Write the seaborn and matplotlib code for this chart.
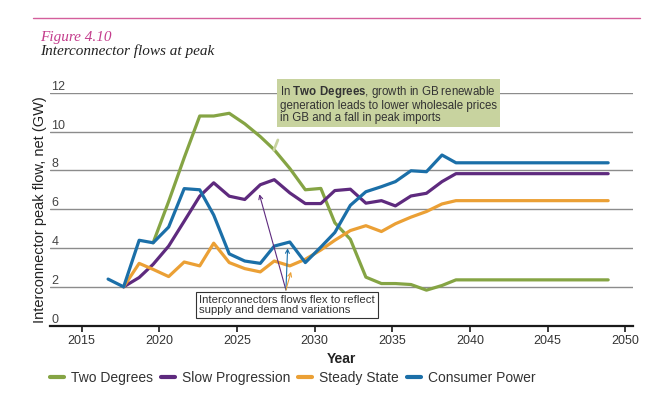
import numpy as np
import pandas as pd
import matplotlib
matplotlib.use("Agg")
import matplotlib.pyplot as plt
import seaborn as sns

# Data (GW); x positions are where each point sits on the year axis
years = [2016.7, 2017.7, 2018.7, 2019.6, 2020.6, 2021.6, 2022.6, 2023.5, 2024.5,
         2025.5, 2026.5, 2027.4, 2028.4, 2029.4, 2030.4, 2031.3, 2032.3, 2033.3,
         2034.3, 2035.2, 2036.2, 2037.2, 2038.2, 2039.1, 2048.9]
nan = np.nan
two_degrees = [nan, nan, nan, 4.27, 6.4, 8.65, 10.8, 10.8, 10.94, 10.4, 9.74, 9.06,
               8.1, 7.0, 7.07, 5.3, 4.45, 2.5, 2.17, 2.17, 2.12, 1.83, 2.07, 2.36, 2.36]
slow_progression = [nan, 2.0, 2.48, 3.16, 4.1, 5.38, 6.67, 7.36, 6.67, 6.5, 7.26, 7.52,
                    6.84, 6.29, 6.29, 6.96, 7.03, 6.31, 6.44, 6.17, 6.68, 6.82, 7.42, 7.83, 7.83]
steady_state = [nan, 2.0, 3.21, 2.9, 2.53, 3.28, 3.08, 4.25, 3.25, 2.94, 2.77, 3.33,
                3.08, 3.42, 3.9, 4.4, 4.9, 5.15, 4.85, 5.25, 5.59, 5.88, 6.27, 6.44, 6.44]
consumer_power = [2.4, 2.0, 4.4, 4.27, 5.08, 7.06, 7.0, 5.7, 3.7, 3.33, 3.21, 4.1,
                  4.31, 3.25, 4.05, 4.8, 6.2, 6.9, 7.16, 7.42, 7.98, 7.93, 8.79, 8.39, 8.39]
scenarios = ["Two Degrees", "Slow Progression", "Steady State", "Consumer Power"]
colors = ["#85a444", "#5e2a7e", "#eba035", "#1b6fa8"]

df = pd.DataFrame({"Year": years, "Two Degrees": two_degrees,
                   "Slow Progression": slow_progression,
                   "Steady State": steady_state, "Consumer Power": consumer_power})
long_df = df.melt(id_vars="Year", var_name="Scenario", value_name="GW").dropna()

sns.set_theme(style="white")
plt.rcParams["font.family"] = ["Liberation Sans", "DejaVu Sans"]
plt.rcParams["mathtext.fontset"] = "custom"
plt.rcParams["mathtext.rm"] = "Liberation Sans"
plt.rcParams["mathtext.bf"] = "Liberation Sans:bold"

fig = plt.figure(figsize=(6.65, 3.94), dpi=100)
ax = fig.add_axes([0.0752, 0.1734, 0.8767, 0.5913])

ax.set_ylim(0, 12)
ax.set_xlim(2012.96, 2050.5)
ax.set_yticks(range(0, 13, 2))
ax.yaxis.grid(True, color="#8c8c8c", linewidth=1.0)
ax.set_axisbelow(True)

sns.lineplot(data=long_df, x="Year", y="GW", hue="Scenario", hue_order=scenarios,
             palette=colors, linewidth=2.3, ax=ax, sort=False, legend=True)

for s in ["top", "right", "left"]:
    ax.spines[s].set_visible(False)
ax.spines["bottom"].set_color("#1a1a1a")
ax.spines["bottom"].set_linewidth(1.6)

ax.set_xticks(range(2015, 2051, 5))
ax.tick_params(axis="x", bottom=True, length=4, width=1.2, color="#1a1a1a",
               labelsize=9, labelcolor="#333333", pad=3)
ax.tick_params(axis="y", left=False, length=0, pad=-1, labelsize=9, labelcolor="#444444")
for lab in ax.get_yticklabels():
    lab.set_horizontalalignment("left")
    lab.set_verticalalignment("bottom")

ax.set_xlabel("Year", fontsize=10, fontweight="bold", color="#222222", labelpad=3)
ax.set_ylabel("Interconnector peak flow, net (GW)", fontsize=10.5, color="#222222", labelpad=2)

# legend below the axis
leg = ax.legend(loc="upper left", bbox_to_anchor=(-0.01, -0.17), ncol=4, frameon=False,
                fontsize=10, handlelength=1.0, handletextpad=0.5, columnspacing=0.6,
                borderaxespad=0)
for h in leg.get_lines():
    h.set_linewidth(3)
for t in leg.get_texts():
    t.set_color("#333333")

# annotation: Two Degrees box
ax.text(2027.77, 11.4,
        r"In $\mathbf{Two\ Degrees}$, growth in GB renewable" "\n"
        "generation leads to lower wholesale prices\nin GB and a fall in peak imports",
        fontsize=8.3, color="#333333", va="center", ha="left", linespacing=1.0,
        bbox=dict(boxstyle="square,pad=0.25", facecolor="#c8d39f", edgecolor="none"))
ax.annotate("", xy=(2027.3, 8.9), xytext=(2027.7, 9.7),
            arrowprops=dict(arrowstyle="-", color="#c8d39f", lw=2))

# annotation: flex box with arrows
ax.text(2022.55, 1.05,
        "Interconnectors flows flex to reflect\nsupply and demand variations",
        fontsize=8.2, color="#333333", va="center", ha="left", linespacing=1.05,
        bbox=dict(boxstyle="square,pad=0.25", facecolor="white", edgecolor="#333333", lw=0.8))
start = (2028.15, 1.84)
for end, c in [((2026.44, 6.77), colors[1]), ((2028.26, 3.99), colors[3]),
               ((2028.48, 2.78), colors[2])]:
    ax.annotate("", xy=end, xytext=start,
                arrowprops=dict(arrowstyle="->", color=c, lw=0.8, shrinkA=0, shrinkB=0,
                                mutation_scale=7))

# header
fig.add_artist(plt.Line2D([33 / 665, 640 / 665], [1 - 18 / 394] * 2, color="#d45f9c", lw=1.0))
fig.text(40 / 665, 1 - 38 / 394, "Figure 4.10", fontsize=11, style="italic",
         family="Liberation Serif", color="#c43d8c", va="center", ha="left")
fig.text(40 / 665, 1 - 51 / 394, "Interconnector flows at peak", fontsize=11, style="italic",
         family="Liberation Serif", color="#222222", va="center", ha="left")

plt.savefig("out.png", dpi=100)
